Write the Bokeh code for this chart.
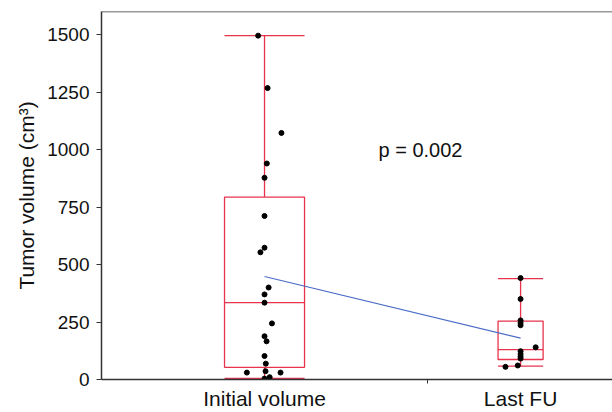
from bokeh.plotting import figure
from bokeh.models import FixedTicker, Range1d, ColumnDataSource, Label, Span
from bokeh.embed import file_html
from bokeh.resources import INLINE

# ---- data ----
groups = ["Initial volume", "Last FU"]
group_pos = [1, 2]
box_width = [0.3125, 0.176]
whisker_low = [5, 58]
q1 = [53, 87]
median = [334, 130]
q3 = [793, 254]
whisker_high = [1495, 439]
means = [448, 180]

initial_vals = [1495, 1267, 1072, 939, 877, 711, 573, 553, 400, 370, 334,
                244, 188, 166, 102, 69, 30, 36, 30, 4, 10]
initial_jitter = [-0.025, 0.012, 0.066, 0.009, 0.0, 0.0, 0.0, -0.016, 0.016, 0.0, 0.0,
                  0.029, 0.0, 0.008, 0.0, 0.005, -0.069, 0.004, 0.0625, 0.0, 0.02]
lastfu_vals = [441, 350, 257, 246, 236, 140, 123, 111, 100, 91, 61, 55]
lastfu_jitter = [0.0, 0.0, 0.0, 0.0, 0.0, 0.059, 0.0, 0.0, 0.0, 0.0, -0.011, -0.059]

y_ticks = [0, 250, 500, 750, 1000, 1250, 1500]
y_max = 1600
p_text = "p = 0.002"

RED = "#e8334c"
BLUE = "#4a6cc6"
AX = "#333333"
TXT = "#111111"
FONT = "Liberation Sans"

p = figure(width=612, height=412, output_backend="svg", toolbar_location=None,
           x_range=Range1d(0.3633, 2.359), y_range=Range1d(0, y_max),
           min_border_left=101, min_border_top=11, min_border_right=0, min_border_bottom=32)
p.background_fill_color = "white"
p.border_fill_color = "white"
p.xgrid.visible = False
p.ygrid.visible = False
p.outline_line_color = None

# top frame line
p.add_layout(Span(location=y_max, dimension="width", line_color=AX, line_width=1.5))

# boxes
half = [w / 2 for w in box_width]
box_src = ColumnDataSource(dict(x=group_pos, w=box_width, q1=q1, q3=q3, med=median,
                                lo=whisker_low, hi=whisker_high,
                                x0=[x - h for x, h in zip(group_pos, half)],
                                x1=[x + h for x, h in zip(group_pos, half)]))
p.vbar(x="x", width="w", bottom="q1", top="q3", source=box_src,
       fill_color=None, line_color=RED, line_width=1.3)
p.segment(x0="x0", x1="x1", y0="med", y1="med", source=box_src, line_color=RED, line_width=1.3)
p.segment(x0="x", x1="x", y0="q3", y1="hi", source=box_src, line_color=RED, line_width=1.3)
p.segment(x0="x", x1="x", y0="lo", y1="q1", source=box_src, line_color=RED, line_width=1.3)
p.segment(x0="x0", x1="x1", y0="hi", y1="hi", source=box_src, line_color=RED, line_width=1.3)
p.segment(x0="x0", x1="x1", y0="lo", y1="lo", source=box_src, line_color=RED, line_width=1.3)

# mean line
p.line(group_pos, means, line_color=BLUE, line_width=1.2)

# points
px = [group_pos[0] + j for j in initial_jitter] + [group_pos[1] + j for j in lastfu_jitter]
py = initial_vals + lastfu_vals
p.scatter(px, py, size=5, fill_color="black", line_color="black")

# p-value text
p.add_layout(Label(x=1.445, y=997, text=p_text, text_font=FONT, text_font_size="20px",
                   text_baseline="middle", text_align="left", text_color=TXT))

# axes
xa = p.xaxis[0]
xa.ticker = FixedTicker(ticks=group_pos, minor_ticks=[1.637])
xa.major_label_overrides = {1: groups[0], 2: groups[1]}
xa.major_tick_line_color = None
xa.major_tick_out = 0
xa.major_tick_in = 0
xa.minor_tick_out = 4
xa.minor_tick_in = 0
xa.minor_tick_line_color = AX
xa.axis_line_color = AX
xa.axis_line_width = 1.5
xa.major_label_text_font = FONT
xa.major_label_text_font_size = "21px"
xa.major_label_text_color = TXT
xa.major_label_standoff = 3

ya = p.yaxis[0]
ya.ticker = FixedTicker(ticks=y_ticks)
ya.minor_tick_line_color = None
ya.major_tick_out = 5
ya.major_tick_in = 0
ya.major_tick_line_color = AX
ya.axis_line_color = AX
ya.axis_line_width = 1.5
ya.major_label_text_font = FONT
ya.major_label_text_font_size = "19px"
ya.major_label_text_color = TXT
ya.major_label_standoff = 7
ya.axis_label = "Tumor volume (cm³)"
ya.axis_label_text_font = FONT
ya.axis_label_text_font_size = "21px"
ya.axis_label_text_font_style = "normal"
ya.axis_label_text_color = TXT
ya.axis_label_standoff = 6

open("out.html", "w").write(file_html(p, INLINE))
